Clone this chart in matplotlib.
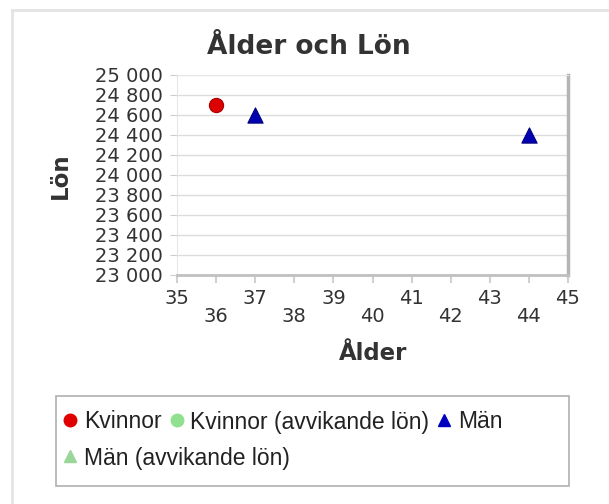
import matplotlib
matplotlib.use('Agg')
import matplotlib.pyplot as plt
from matplotlib.lines import Line2D
from matplotlib.patches import Rectangle

plt.rcParams['font.family'] = ['DejaVu Sans']

# ── data ──────────────────────────────────────────────────────────────────────
kvinnor_alder = [36]
kvinnor_lon = [24700]
man_alder = [37, 44]
man_lon = [24600, 24400]
# avvikande lön: inga punkter i bilden
kvinnor_avv_alder, kvinnor_avv_lon = [], []
man_avv_alder, man_avv_lon = [], []

x_major = [35, 37, 39, 41, 43, 45]
x_minor = [36, 38, 40, 42, 44]
y_ticks = list(range(23000, 25001, 200))

W, H = 609, 504
fig = plt.figure(figsize=(W / 100, H / 100), dpi=100)
fig.patch.set_facecolor('white')


def fx(px):
    return px / W


def fy(py):
    return 1 - py / H


# yttre panel (ljusgrå kant)
fig.add_artist(Line2D([fx(12), fx(12)], [fy(10), 0], color='#e4e4e4', lw=2))
fig.add_artist(Line2D([fx(12), 1], [fy(10), fy(10)], color='#e4e4e4', lw=2))

ax = fig.add_axes([fx(177), fy(275), fx(568) - fx(177), fy(75) - fy(275)])

ax.scatter(kvinnor_alder, kvinnor_lon, s=105, marker='o', color='#dd0000',
           edgecolors='#aa0000', linewidths=0.8, zorder=3)
ax.scatter(man_alder, man_lon, s=120, marker='^', color='#0000b0',
           edgecolors='#000080', linewidths=0.8, zorder=3)
ax.scatter(kvinnor_avv_alder, kvinnor_avv_lon, marker='o', color='#8fe08f')
ax.scatter(man_avv_alder, man_avv_lon, marker='^', color='#99d699')

ax.set_xlim(35, 45)
ax.set_ylim(23000, 25000)
ax.set_yticks(y_ticks)
ax.set_yticklabels([f'{v:,}'.replace(',', ' ') for v in y_ticks])
ax.set_xticks(x_major)
ax.set_xticklabels([str(v) for v in x_major])
ax.set_xticks(x_minor, minor=True)
ax.set_xticklabels([str(v) for v in x_minor], minor=True)

ax.grid(axis='y', color='#dcdcdc', lw=1)
ax.set_axisbelow(True)
ax.tick_params(axis='y', which='major', length=5, color='#cccccc',
               labelsize=14, labelcolor='#333333', pad=5)
ax.tick_params(axis='x', which='major', length=6, color='#d0d0d0', width=1.5,
               labelsize=14, labelcolor='#333333', pad=4)
ax.tick_params(axis='x', which='minor', length=6, color='#d0d0d0', width=1.5,
               labelsize=14, labelcolor='#333333', pad=17)

for side in ['top', 'left']:
    ax.spines[side].set_color('#e6e6e6')
ax.spines['bottom'].set_color('#c0c0c0')
ax.spines['bottom'].set_linewidth(2)
ax.spines['right'].set_color('#b5b5b5')
ax.spines['right'].set_linewidth(2.5)

fig.text(fx(309), fy(47), 'Ålder och Lön', ha='center', va='center',
         fontsize=19, fontweight='bold', color='#333333')
fig.text(fx(373), fy(353), 'Ålder', ha='center', va='center',
         fontsize=16.5, fontweight='bold', color='#333333')
fig.text(fx(60), fy(176), 'Lön', ha='center', va='center', rotation=90,
         fontsize=16.5, fontweight='bold', color='#333333')

# ── legend ────────────────────────────────────────────────────────────────────
fig.add_artist(Rectangle((fx(56), fy(486)), fx(569) - fx(56), fy(396) - fy(486),
                         facecolor='white', edgecolor='#b0b0b0', lw=1.2))

h_kv = Line2D([], [], ls='none', marker='o', color='#e00000', markersize=9)
h_kv_avv = Line2D([], [], ls='none', marker='o', color='#8fe08f', markersize=9)
h_man = Line2D([], [], ls='none', marker='^', color='#0000c0', markersize=9)
h_man_avv = Line2D([], [], ls='none', marker='^', color='#9ad69a', markersize=9)

leg_font = {'family': 'Liberation Sans', 'size': 16.5}
leg1 = fig.legend([h_kv, h_kv_avv, h_man],
                  ['Kvinnor', 'Kvinnor (avvikande lön)', 'Män'],
                  ncol=3, frameon=False, prop=leg_font, loc='center left',
                  bbox_to_anchor=(fx(60), fy(422)), handletextpad=0.15,
                  columnspacing=0.2, handlelength=0.9, borderaxespad=0,
                  borderpad=0)
leg2 = fig.legend([h_man_avv], ['Män (avvikande lön)'],
                  frameon=False, prop=leg_font, loc='center left',
                  bbox_to_anchor=(fx(60), fy(458)), handletextpad=0.15,
                  handlelength=0.9, borderaxespad=0, borderpad=0)
for t in leg1.get_texts() + leg2.get_texts():
    t.set_color('#222222')

fig.savefig('out.png', dpi=100)
